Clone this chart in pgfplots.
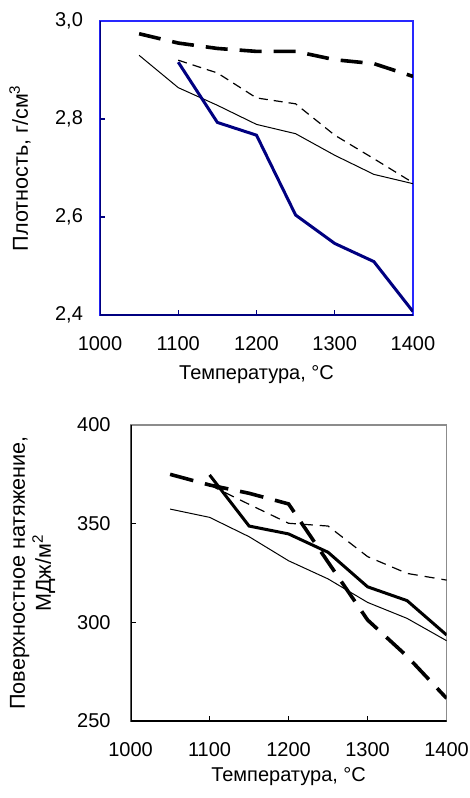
\documentclass[border=0pt]{standalone}
\usepackage{fontspec}
\setmainfont{Liberation Sans}
\usepackage{pgfplots}
\pgfplotsset{compat=1.18}
\definecolor{navyline}{RGB}{0,0,128}
\definecolor{boxblue}{RGB}{40,40,255}
\definecolor{boxgray}{RGB}{140,140,140}

\pgfplotsset{
  excel/.style={
    scale only axis,
    anchor=south west,
    font=\fontsize{10}{12}\selectfont,
    xmin=1000, xmax=1400,
    xtick={1000,1100,...,1400},
    tick align=inside,
    major tick length=2.5pt,
    xtick pos=bottom, ytick pos=left,
    /pgf/number format/assume math mode=true,
    /pgf/number format/1000 sep={},
    xticklabel style={yshift=-7pt},
    yticklabel style={xshift=-5pt},
    xlabel style={at={(axis description cs:0.5,0)}, anchor=center},
  },
}

\begin{document}
\begin{tikzpicture}
\useasboundingbox (0,0) rectangle (235pt,-399pt);

% density
\begin{axis}[excel,
  at={(50pt,-157.5pt)},
  width=156.5pt, height=147pt,
  ymin=2.4, ymax=3.0,
  ytick={2.4,2.6,2.8,3.0},
  yticklabel style={/pgf/number format/.cd, fixed, fixed zerofill, precision=1, use comma},
  axis line style={boxblue, line width=0.7pt},
  tick style={navyline, line width=0.6pt},
  xlabel={Температура, °C},
  xlabel style={yshift=-30pt},
  ylabel={Плотность, г/см\textsuperscript{3}},
  ylabel style={at={(axis description cs:0,0.5)}, anchor=center, yshift=40pt,
    font=\fontsize{10.8}{13}\selectfont},
]
\addplot[black, line width=1.8pt, dash pattern=on 11pt off 6pt] coordinates {
  (1050,2.974) (1100,2.955) (1150,2.944) (1200,2.938) (1250,2.938) (1300,2.921) (1350,2.913) (1400,2.887)
};
\addplot[black, line width=0.5pt] coordinates {
  (1050,2.930) (1100,2.864) (1150,2.828) (1200,2.789) (1250,2.770) (1300,2.726) (1350,2.687) (1400,2.668)
};
\addplot[black, line width=0.6pt, dash pattern=on 4.5pt off 3pt] coordinates {
  (1100,2.920) (1150,2.894) (1200,2.843) (1250,2.831) (1300,2.767) (1350,2.719) (1400,2.670)
};
\addplot[navyline, line width=1.5pt] coordinates {
  (1100,2.916) (1150,2.793) (1200,2.767) (1250,2.604) (1300,2.546) (1350,2.509) (1400,2.407)
};
\draw[navyline, line width=1pt] (rel axis cs:0,1) -- (rel axis cs:0,0) -- (rel axis cs:1,0);
\end{axis}

% surface tension
\begin{axis}[excel,
  at={(65.3pt,-360.5pt)},
  width=158pt, height=148pt,
  ymin=250, ymax=400,
  ytick={250,300,350,400},
  axis line style={boxgray, line width=0.6pt},
  tick style={black, line width=0.6pt},
  yticklabel style={xshift=-1.5pt},
  xlabel={Температура, °C},
  xlabel style={yshift=-28pt},
  ylabel={Поверхностное натяжение,\\МДж/м\textsuperscript{2}},
  ylabel style={at={(axis description cs:0,0.5)}, anchor=center, yshift=49pt, align=center,
    font=\fontsize{10.8}{13}\selectfont},
]
\addplot[black, line width=1.8pt, dash pattern=on 12pt off 6pt] coordinates {
  (1050,375.0) (1100,369.6) (1150,365.4) (1200,360.0) (1250,330.5) (1300,301.2) (1350,282.8) (1400,261.5)
};
\addplot[black, line width=1.5pt] coordinates {
  (1100,374.7) (1150,348.8) (1200,344.8) (1250,335.5) (1300,318.0) (1350,311.0) (1400,293.6)
};
\addplot[black, line width=0.5pt] coordinates {
  (1050,357.4) (1100,353.2) (1150,343.4) (1200,331.2) (1250,322.0) (1300,310.1) (1350,302.0) (1400,290.7)
};
\addplot[black, line width=0.6pt, dash pattern=on 5pt off 3.5pt] coordinates {
  (1100,369.6) (1150,359.8) (1200,350.2) (1250,348.8) (1300,333.3) (1350,324.8) (1400,321.4)
};
\draw[black, line width=1pt] (rel axis cs:0,1) -- (rel axis cs:0,0) -- (rel axis cs:1,0);
\end{axis}
\end{tikzpicture}
\end{document}
